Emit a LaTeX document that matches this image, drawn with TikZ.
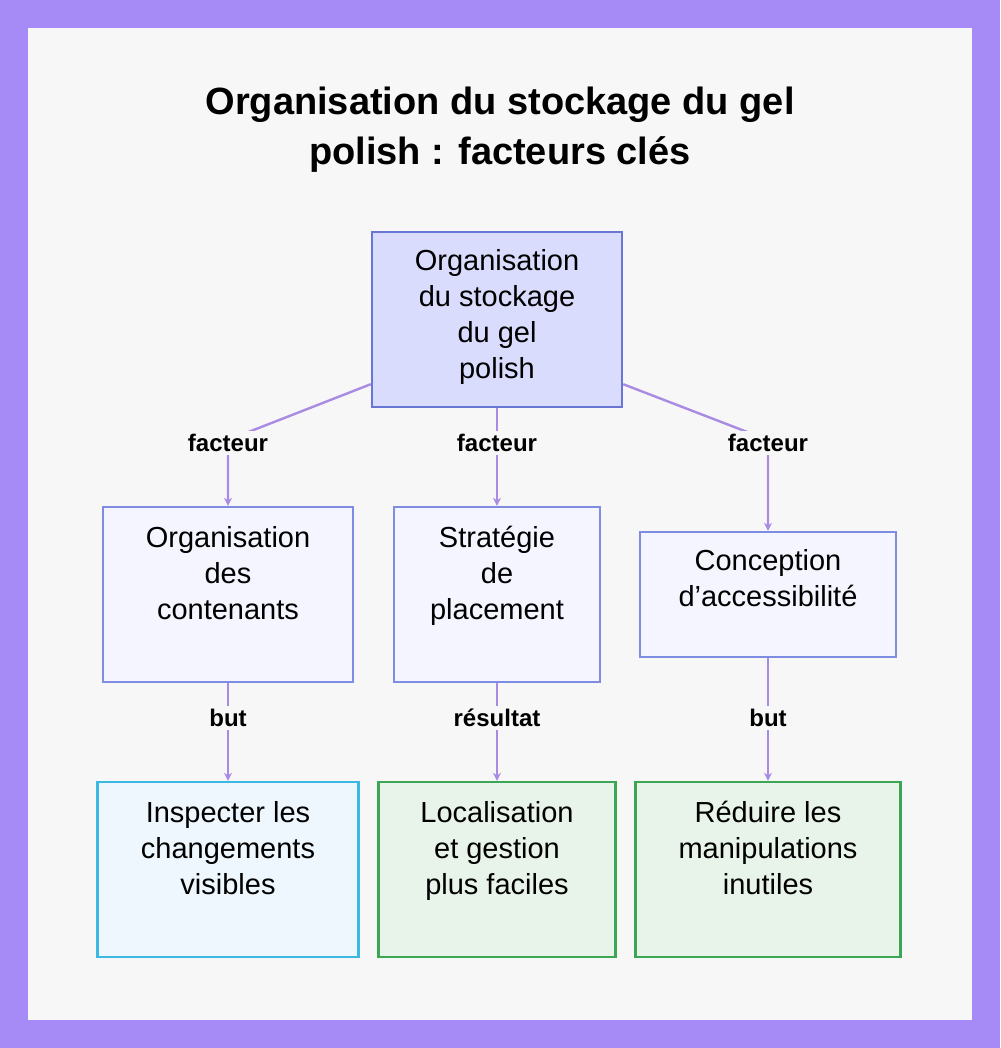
\documentclass[tikz,border=0pt]{standalone}
\usepackage{fontspec}
\setmainfont{Liberation Sans}
\usetikzlibrary{positioning,arrows.meta}
\definecolor{frame}{HTML}{A68BF7}
\definecolor{paper}{HTML}{F7F7F8}
\definecolor{linkc}{HTML}{A98BE4}
\definecolor{topfill}{HTML}{D9DCFC}
\definecolor{topdraw}{HTML}{6A76D6}
\definecolor{midfill}{HTML}{F4F5FF}
\definecolor{middraw}{HTML}{7E8CE2}
\definecolor{bluefill}{HTML}{EDF7FD}
\definecolor{bluedraw}{HTML}{3CB9E2}
\definecolor{greenfill}{HTML}{E8F4E9}
\definecolor{greendraw}{HTML}{3BA653}
\tikzset{
  box/.style={rectangle, draw, line width=1.2pt, align=center, font=\fontsize{14.5}{18}\selectfont, inner sep=2pt, text depth=22pt},
  topbox/.style={box, fill=topfill, draw=topdraw, text depth=6pt},
  midbox/.style={box, fill=midfill, draw=middraw},
  bluebox/.style={box, fill=bluefill, draw=bluedraw},
  greenbox/.style={box, fill=greenfill, draw=greendraw},
  link/.style={draw=linkc, line width=1.2pt, -{Stealth[length=4pt,width=4pt]}},
  tag/.style={font=\bfseries\fontsize{12}{14}\selectfont, fill=paper, inner sep=1.5pt}
}
\begin{document}
\begin{tikzpicture}[x=0.5pt,y=-0.5pt]
  \useasboundingbox (0,0) rectangle (1000,1048);
  \fill[frame] (0,0) rectangle (1000,1048);
  \fill[paper] (28,28) rectangle (972,1020);
  \node[font=\bfseries\fontsize{19}{25}\selectfont, align=center] (title) at (500,130) {Organisation du stockage du gel\\polish : facteurs clés};

  \node[topbox, minimum width=125pt, minimum height=87.5pt] (stock) at (497,319.5) {Organisation\\du stockage\\du gel\\polish};
  \node[midbox, minimum width=125pt, minimum height=87.5pt] (cont) at (228,594.5) {Organisation\\des\\contenants};
  \node[midbox, minimum width=103pt, minimum height=87.5pt] (strat) at (497,594.5) {Stratégie\\de\\placement};
  \node[midbox, minimum width=128pt, minimum height=62.5pt, text depth=17pt] (acces) at (768,594.5) {Conception\\d'accessibilité};
  \node[bluebox, minimum width=130.5pt, minimum height=87.5pt] (insp) at (228,869.5) {Inspecter les\\changements\\visibles};
  \node[greenbox, minimum width=118.5pt, minimum height=87.5pt] (local) at (497,869.5) {Localisation\\et gestion\\plus faciles};
  \node[greenbox, minimum width=132.5pt, minimum height=87.5pt] (reduc) at (768,869.5) {Réduire les\\manipulations\\inutiles};

  \coordinate (kl) at (228,440);
  \coordinate (kr) at (768,440);
  \draw[link] ([yshift=12pt]stock.south west) -- (kl) -- (cont.north);
  \draw[link] (stock.south) -- (strat.north);
  \draw[link] ([yshift=12pt]stock.south east) -- (kr) -- (acces.north);
  \draw[link] (cont.south) -- (insp.north);
  \draw[link] (strat.south) -- (local.north);
  \draw[link] (acces.south) -- (reduc.north);

  \node[tag] (t1) at (228,443) {facteur};
  \node[tag] (t2) at (497,443) {facteur};
  \node[tag] (t3) at (768,443) {facteur};
  \node[tag] (t4) at (228,718) {but};
  \node[tag] (t5) at (497,718) {résultat};
  \node[tag] (t6) at (768,718) {but};
\end{tikzpicture}
\end{document}
